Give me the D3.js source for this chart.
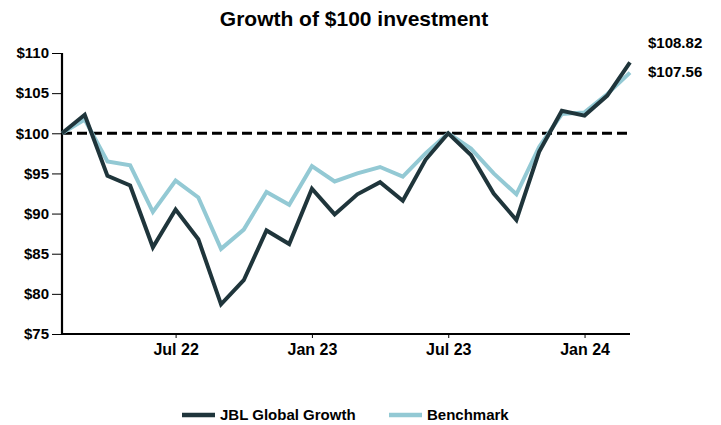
<!DOCTYPE html>
<html>
<head>
<meta charset="utf-8">
<script src="https://cdn.jsdelivr.net/npm/d3@7"></script>
<style>
  body { margin: 0; background: #fff; }
  text { font-family: "Liberation Sans", Arial, sans-serif; font-weight: bold; }
</style>
</head>
<body>
<div id="chart"></div>
<script>
// monthly points, Feb 22 .. Mar 24
var months = ["Feb 22","Mar 22","Apr 22","May 22","Jun 22","Jul 22","Aug 22","Sep 22","Oct 22","Nov 22","Dec 22",
  "Jan 23","Feb 23","Mar 23","Apr 23","May 23","Jun 23","Jul 23","Aug 23","Sep 23","Oct 23","Nov 23","Dec 23",
  "Jan 24","Feb 24","Mar 24"];
var jbl = [100, 102.3, 94.7, 93.5, 85.8, 90.5, 86.8, 78.7, 81.7, 87.9, 86.2,
  93.1, 89.9, 92.4, 93.9, 91.6, 96.7, 100, 97.3, 92.5, 89.2, 97.7, 102.8,
  102.2, 104.7, 108.82];
var bench = [100, 101.7, 96.5, 96.0, 90.2, 94.1, 92.0, 85.6, 88.0, 92.7, 91.1,
  95.9, 94.0, 95.0, 95.8, 94.6, 97.5, 100, 98.1, 95.0, 92.4, 98.3, 102.4,
  102.6, 104.9, 107.56];
var yTicks = [75, 80, 85, 90, 95, 100, 105, 110];
var xTicks = ["Jul 22", "Jan 23", "Jul 23", "Jan 24"];
var seriesNames = ["JBL Global Growth", "Benchmark"];
var colors = ["#1f353b", "#93c9d4"];

var W = 721, H = 425;
var margin = {top: 53, right: 91, bottom: 91, left: 62};

var svg = d3.select("#chart").append("svg")
    .attr("width", W)
    .attr("height", H);

// even monthly spacing
var x = d3.scaleLinear()
    .domain([0, months.length - 1])
    .range([margin.left, W - margin.right]);
var y = d3.scaleLinear()
    .domain([75, 110])
    .range([H - margin.bottom, margin.top]);

// title
svg.append("text")
    .attr("x", 354).attr("y", 26)
    .attr("text-anchor", "middle")
    .style("font-size", "21px")
    .text("Growth of $100 investment");

// axes
var yAxis = svg.append("g")
    .attr("transform", "translate(" + margin.left + ",0)")
    .call(d3.axisLeft(y).tickValues(yTicks).tickSize(10).tickPadding(3).tickFormat(d => "$" + d));
var xAxis = svg.append("g")
    .attr("transform", "translate(0," + (H - margin.bottom) + ")")
    .call(d3.axisBottom(x).tickValues(xTicks.map(t => months.indexOf(t)))
      .tickSize(4).tickPadding(6).tickFormat(i => months[i]));

[yAxis, xAxis].forEach(function(a) {
  a.select(".domain").attr("stroke", "#000").attr("stroke-width", 2.2);
  a.selectAll(".tick line").attr("stroke", "#000").attr("stroke-width", 1);
  a.selectAll("text").style("font-size", "15px").attr("fill", "#000");
});
xAxis.selectAll("text").style("font-size", "16px");
yAxis.select(".domain").attr("d", "M0," + margin.top + "V" + (H - margin.bottom));
xAxis.select(".domain").attr("d", "M" + margin.left + ",0H" + (W - margin.right));

// reference line at 100
svg.append("line")
    .attr("x1", x(0)).attr("x2", x(months.length - 1) - 2)
    .attr("y1", y(100)).attr("y2", y(100))
    .attr("stroke", "#000")
    .attr("stroke-width", 3)
    .attr("stroke-dasharray", "10,5");

var line = d3.line()
    .x((d, i) => x(i))
    .y(d => y(d));

[bench, jbl].forEach(function(s, k) {
  svg.append("path")
      .datum(s)
      .attr("d", line)
      .attr("fill", "none")
      .attr("stroke", colors[1 - k])
      .attr("stroke-width", 4)
      .attr("stroke-linejoin", "miter");
});

// end labels
svg.append("text")
    .attr("x", 648).attr("y", 48)
    .style("font-size", "15px")
    .text("$" + jbl[jbl.length - 1].toFixed(2));
svg.append("text")
    .attr("x", 648).attr("y", 77)
    .style("font-size", "15px")
    .text("$" + bench[bench.length - 1].toFixed(2));

// legend
var legX = [182, 389];
var leg = svg.selectAll(".leg")
    .data(seriesNames)
    .enter().append("g")
    .attr("transform", (d, i) => "translate(" + legX[i] + ",415)");
leg.append("line")
    .attr("x1", 0).attr("x2", 33)
    .attr("stroke", (d, i) => colors[i])
    .attr("stroke-width", 4.5);
leg.append("text")
    .attr("x", 38).attr("y", 5)
    .style("font-size", "15px")
    .text(d => d);
</script>
</body>
</html>
